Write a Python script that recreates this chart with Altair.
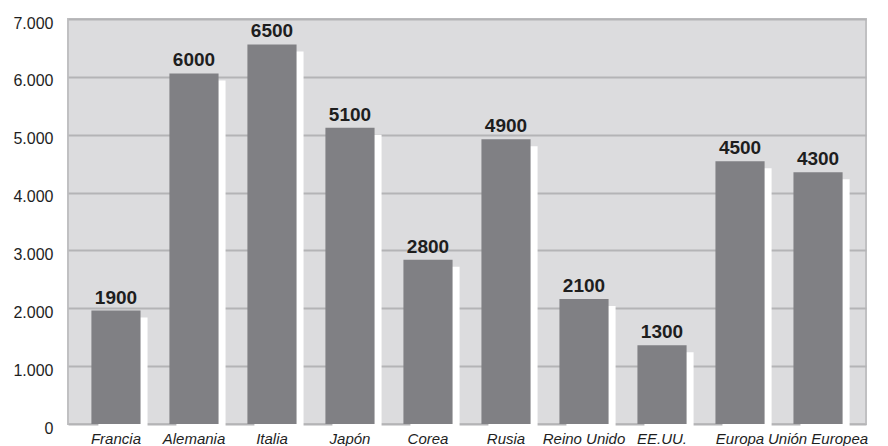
import altair as alt
import pandas as pd

countries = ["Francia", "Alemania", "Italia", "Japón", "Corea", "Rusia",
             "Reino Unido", "EE.UU.", "Europa", "Unión Europea"]
labels = [1900, 6000, 6500, 5100, 2800, 4900, 2100, 1300, 4500, 4300]
bar_heights = [1960, 6060, 6560, 5120, 2840, 4920, 2160, 1360, 4540, 4350]
y_ticks = [0, 1000, 2000, 3000, 4000, 5000, 6000, 7000]

df = pd.DataFrame({"country": countries, "value": bar_heights, "label": labels})

FONT = "'Liberation Sans', Arial, sans-serif"

x = alt.X("country:N", sort=countries, title=None,
          scale=alt.Scale(paddingInner=0.37, paddingOuter=0.3),
          axis=alt.Axis(labelAngle=0, ticks=False, domain=False, labelPadding=7,
                        labelFontStyle="italic", labelFontSize=15, labelFont=FONT,
                        labelColor="#1e1e1e", labelBaseline="top"))
y = alt.Y("value:Q", title=None,
          scale=alt.Scale(domain=[0, 7000], nice=False),
          axis=alt.Axis(values=y_ticks, ticks=False, domain=False, labelPadding=15,
                        labelFontSize=16, labelFont=FONT, labelColor="#1e1e1e",
                        labelOffset=4, gridColor="#b4b4b6", gridWidth=2,
                        labelExpr="replace(format(datum.value, ','), ',', '.')"))

base = alt.Chart(df)

shadow = base.mark_bar(color="white", xOffset=7, x2Offset=7, yOffset=7).encode(x=x, y=y)
bars = base.mark_bar(color="#808084").encode(x=x, y=y)
text = base.mark_text(baseline="bottom", dy=-3, fontSize=19, fontWeight="bold",
                      font=FONT, color="#1e1e1e").encode(
    x=x, y=y, text=alt.Text("label:Q", format="d"))

chart = alt.layer(shadow, bars, text).properties(
    width=798, height=405,
    background="white",
    autosize=alt.AutoSizeParams(type="none"),
    padding={"left": 60, "top": 11, "right": 14, "bottom": 30},
).configure_view(fill="#dcdcde", stroke="#c0c0c2", strokeWidth=2)

chart.save("out.html", embed_options={"renderer": "svg", "actions": False})
